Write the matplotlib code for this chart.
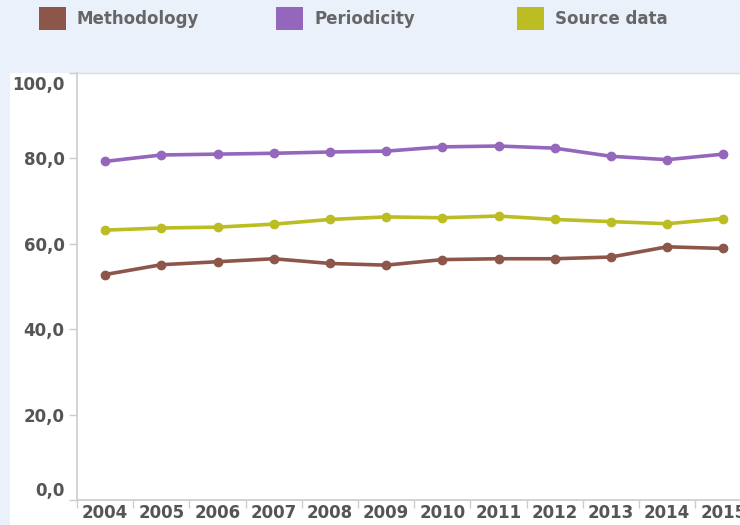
import matplotlib.pyplot as plt
import matplotlib.transforms as mtransforms
from matplotlib.patches import Rectangle

years = ['2004', '2005', '2006', '2007', '2008', '2009',
         '2010', '2011', '2012', '2013', '2014', '2015']
methodology = [52.8, 55.1, 55.8, 56.5, 55.4, 55.0, 56.3, 56.5, 56.5, 56.9, 59.3, 58.9]
periodicity = [79.3, 80.8, 81.0, 81.2, 81.5, 81.7, 82.7, 82.9, 82.4, 80.5, 79.7, 81.0]
source_data = [63.2, 63.7, 63.9, 64.6, 65.7, 66.3, 66.1, 66.5, 65.7, 65.2, 64.7, 65.9]
y_ticks = [0, 20, 40, 60, 80, 100]

series = [('Methodology', methodology, '#8c564b'),
          ('Periodicity', periodicity, '#9467bd'),
          ('Source data', source_data, '#bcbd22')]

grey = '#555555'
fig = plt.figure(figsize=(7.4, 5.25), dpi=100, facecolor='#eaf1fb')
# белая подложка под графиком
fig.patches.append(Rectangle((10 / 740, 0), 1, (525 - 73) / 525, transform=fig.transFigure,
                             facecolor='white', edgecolor='none', zorder=-10))

ax = fig.add_axes([77 / 740, 25 / 525, 663 / 740, 427 / 525])
ax.set_facecolor('white')

x = list(range(len(years)))
for name, vals, col in series:
    ax.plot(x, vals, color=col, lw=2.6, marker='o', ms=6, solid_capstyle='round', zorder=3,
            clip_on=False)

ax.set_xticks(x)
ax.set_xticklabels(years)
ax.set_xticks([i - 0.5 for i in range(len(years) + 1)], minor=True)
ax.tick_params(axis='x', which='major', length=0, pad=3, labelsize=12, labelcolor=grey)
ax.tick_params(axis='x', which='minor', length=6, color='#cccccc', width=1)
for lab in ax.get_xticklabels():
    lab.set_fontweight('bold')

ax.set_yticks(y_ticks)
ax.set_yticklabels([f'{v:.1f}'.replace('.', ',') for v in y_ticks])
ax.tick_params(axis='y', length=6, color='#cccccc', width=1, pad=3, labelsize=12, labelcolor=grey)
ylabs = ax.get_yticklabels()
for lab in ylabs:
    lab.set_fontweight('bold')
# крайние подписи сдвинуты внутрь
ylabs[0].set_transform(ylabs[0].get_transform() +
                       mtransforms.ScaledTranslation(0, 11 / 100, fig.dpi_scale_trans))
ylabs[-1].set_transform(ylabs[-1].get_transform() +
                        mtransforms.ScaledTranslation(0, -10 / 100, fig.dpi_scale_trans))

# пределы после тиков, иначе set_xticks их расширяет
ax.set_xlim(-0.5, -0.5 + 663 / 56.2)
ax.set_ylim(0, 100)

for side in ['left', 'bottom']:
    ax.spines[side].set_color('#cccccc')
    ax.spines[side].set_linewidth(1.2)
ax.spines['top'].set_color('#dddddd')
ax.spines['top'].set_linewidth(1)
ax.spines['right'].set_visible(False)

# легенда сверху
leg_x = [39, 276, 517]
for (name, vals, col), lx in zip(series, leg_x):
    fig.patches.append(Rectangle((lx / 740, (525 - 30) / 525), 27 / 740, 23 / 525,
                                 transform=fig.transFigure, facecolor=col, edgecolor='none'))
    fig.text((lx + 38) / 740, (525 - 19) / 525, name, fontsize=12, color='#666666',
             fontweight='bold', va='center', ha='left')

fig.savefig('out.png', dpi=100, facecolor=fig.get_facecolor())
